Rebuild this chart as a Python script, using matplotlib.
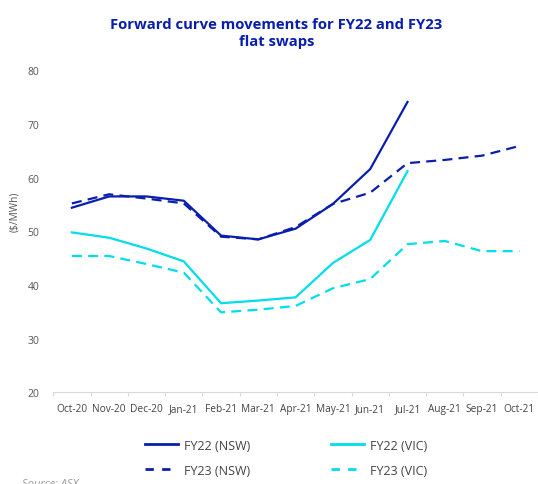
import matplotlib
matplotlib.use("Agg")
import matplotlib.pyplot as plt
from matplotlib.lines import Line2D

plt.rcParams['font.family'] = ['Open Sans', 'DejaVu Sans']

# donnees ($/MWh)
months = ['Oct-20', 'Nov-20', 'Dec-20', 'Jan-21', 'Feb-21', 'Mar-21', 'Apr-21',
          'May-21', 'Jun-21', 'Jul-21', 'Aug-21', 'Sep-21', 'Oct-21']
fy22_nsw = [54.4, 56.5, 56.5, 55.7, 49.2, 48.5, 50.5, 55.1, 61.6, 74.1]
fy22_vic = [49.8, 48.8, 46.8, 44.4, 36.6, 37.1, 37.7, 44.1, 48.4, 61.2]
fy23_nsw = [55.2, 56.9, 56.1, 55.2, 49.0, 48.5, 50.8, 55.1, 57.2, 62.7, 63.3, 64.1, 65.9]
fy23_vic = [45.4, 45.4, 43.9, 42.3, 34.9, 35.4, 36.1, 39.4, 41.1, 47.6, 48.2, 46.3, 46.3]

dark = '#0A1EAE'
cyan = '#00DDEB'
lw = 1.6
dash = (0, (4.5, 2.8))

fig = plt.figure(figsize=(5.38, 4.85), dpi=100)
ax = fig.add_axes([0.099, 0.189, 0.901, 0.664])

ax.plot(range(len(fy22_nsw)), fy22_nsw, color=dark, lw=lw)
ax.plot(range(len(fy23_nsw)), fy23_nsw, color=dark, lw=lw, linestyle=dash)
ax.plot(range(len(fy22_vic)), fy22_vic, color=cyan, lw=lw)
ax.plot(range(len(fy23_vic)), fy23_vic, color=cyan, lw=lw, linestyle=dash)

ax.set_xlim(-0.5, len(months) - 0.5)
ax.set_ylim(20, 80)
ax.set_yticks(range(20, 81, 10))
ax.set_xticks(range(len(months)))
ax.set_xticklabels(months)
ax.set_xticks([i + 0.5 for i in range(-1, len(months))], minor=True)
ax.tick_params(axis='x', which='major', length=0, pad=8, labelsize=7.3, labelcolor='#444444')
ax.tick_params(axis='x', which='minor', length=3, color='#d9d9d9', width=0.8)
ax.tick_params(axis='y', length=0, pad=10, labelsize=7.5, labelcolor='#555555')
for s in ['top', 'right', 'left']:
    ax.spines[s].set_visible(False)
ax.spines['bottom'].set_color('#d9d9d9')
ax.spines['bottom'].set_linewidth(0.8)

fig.text(0.028, 0.563, '($/MWh)', rotation=90, ha='center', va='center',
         fontsize=7.3, color='#555555')

fig.text(0.514, 0.962, 'Forward curve movements for FY22 and FY23\nflat swaps',
         ha='center', va='top', fontsize=10.7, fontweight='bold', color=dark,
         linespacing=1.25)

# ordre colonne par colonne pour avoir FY22 sur la 1ere ligne
handles = [Line2D([], [], color=dark, lw=2),
           Line2D([], [], color=dark, lw=2, linestyle=(0, (3, 3))),
           Line2D([], [], color=cyan, lw=2),
           Line2D([], [], color=cyan, lw=2, linestyle=(0, (3, 3)))]
labels = ['FY22 (NSW)', 'FY23 (NSW)', 'FY22 (VIC)', 'FY23 (VIC)']
fig.legend(handles, labels, loc='center', bbox_to_anchor=(0.532, 0.054), ncol=2,
           frameon=False, fontsize=9, handlelength=2.6, handletextpad=0.5,
           columnspacing=6.5, labelspacing=0.95, labelcolor='#444444')

fig.text(0.04, 0.012, 'Source: ASX', ha='left', va='top', fontsize=8,
         style='italic', color='#999999')

plt.savefig('out.png', dpi=100)
